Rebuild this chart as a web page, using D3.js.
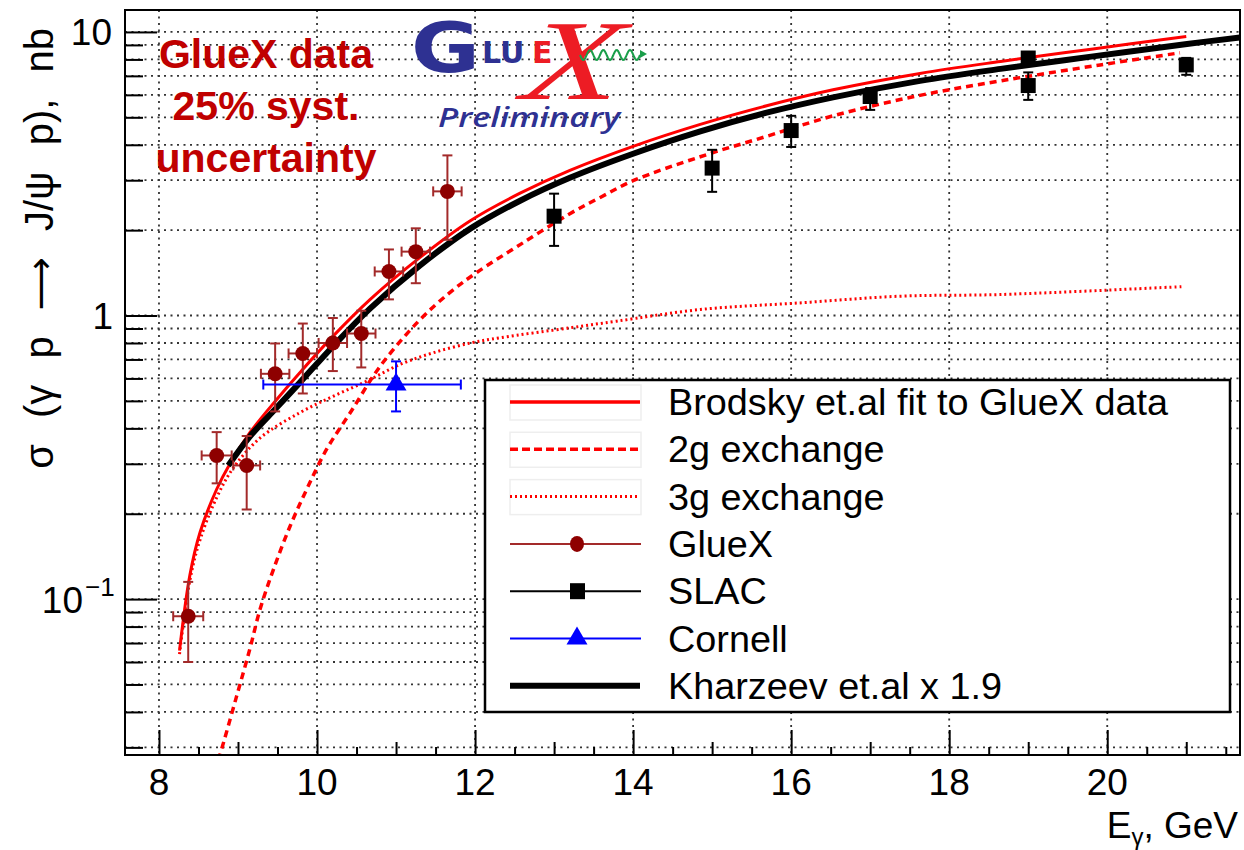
<!DOCTYPE html>
<html><head><meta charset="utf-8">
<script src="https://cdn.jsdelivr.net/npm/d3@7"></script>
<style>body{margin:0;background:#fff;} svg{display:block;}</style>
</head><body><svg id="chart" width="1244" height="850"></svg>
<script>
// ---------------- data ----------------
const gluexE     = [8.37, 8.73, 9.11, 9.47, 9.82, 10.2, 10.56, 10.91, 11.25, 11.65];
const gluexSigma = [0.087, 0.321, 0.296, 0.623, 0.735, 0.80, 0.864, 1.43, 1.68, 2.74];
const gluexHi    = [0.115, 0.388, 0.376, 0.797, 0.937, 0.98, 1.04, 1.71, 2.03, 3.67];
const gluexLo    = [0.060, 0.256, 0.207, 0.459, 0.531, 0.637, 0.656, 1.14, 1.30, 1.85];
const gluexEErr  = [0.19, 0.19, 0.17, 0.18, 0.18, 0.18, 0.18, 0.18, 0.18, 0.18];

const slacE     = [13, 15, 16, 17, 19, 19, 21];
const slacSigma = [2.24, 3.31, 4.49, 5.92, 8.09, 6.47, 7.65];
const slacHi    = [2.69, 3.84, 5.06, 6.34, 8.5, 7.2, 8.1];
const slacLo    = [1.76, 2.73, 3.93, 5.31, 7.7, 5.76, 7.06];

const cornellE = [11.0], cornellSigma = [0.571];
const cornellELo = [9.32], cornellEHi = [11.82];
const cornellLo = [0.459], cornellHi = [0.689];

const brodskyE = [8.26, 8.39, 8.52, 8.73, 8.90, 9.152, 9.49, 9.785, 10.2, 10.67, 11.30, 11.94, 12.57, 13.20, 14.0, 14.85, 15.69, 16.53, 17.63, 18.65, 19.82, 21.0];
const brodskyS = [0.0658, 0.121, 0.172, 0.244, 0.301, 0.387, 0.506, 0.630, 0.844, 1.138, 1.60, 2.16, 2.70, 3.25, 3.95, 4.72, 5.49, 6.25, 7.14, 7.87, 8.71, 9.64];

const kharzeevE = [8.877, 9.152, 9.49, 9.785, 10.2, 10.67, 11.30, 11.94, 12.57, 13.20, 14.0, 14.85, 15.69, 16.53, 17.63, 18.65, 19.82, 21.01, 21.68];
const kharzeevS = [0.296, 0.375, 0.474, 0.581, 0.778, 1.058, 1.50, 2.025, 2.54, 3.06, 3.72, 4.46, 5.19, 5.88, 6.72, 7.41, 8.20, 9.07, 9.56];

const g2E = [8.70, 8.77, 8.98, 9.15, 9.28, 9.45, 9.66, 9.87, 10.12, 10.42, 10.80, 11.28, 11.68, 12.02, 12.57, 13.20, 13.59, 14.0, 14.85, 15.69, 16.53, 17.63, 18.65, 19.91, 20.92];
const g2S = [0.0247, 0.0282, 0.0452, 0.0667, 0.0922, 0.1276, 0.181, 0.244, 0.337, 0.454, 0.663, 0.952, 1.205, 1.417, 1.778, 2.287, 2.614, 2.988, 3.63, 4.285, 5.06, 5.975, 6.72, 7.65, 8.44];

const g3E = [8.26, 8.39, 8.52, 8.73, 8.94, 9.28, 9.78, 10.21, 10.63, 11.05, 11.47, 11.94, 12.32, 13.2, 13.79, 14.85, 16.11, 17.38, 18.65, 20.96];
const g3S = [0.064, 0.116, 0.162, 0.228, 0.29, 0.37, 0.454, 0.52, 0.587, 0.672, 0.739, 0.80, 0.835, 0.905, 0.955, 1.05, 1.108, 1.17, 1.186, 1.265];

const xTickLabels = [8, 10, 12, 14, 16, 18, 20];
const yTickLabels = [0.1, 1, 10];
const legendLabels = ["Brodsky et.al fit to GlueX data", "2g exchange", "3g exchange", "GlueX", "SLAC", "Cornell", "Kharzeev et.al x 1.9"];

// ---------------- layout ----------------
const svg = d3.select('#chart');
const L = 125, T = 10, R = 1240, B = 755;
const x = d3.scaleLinear().domain([7.57, 21.68]).range([L, R]);
const y = d3.scaleLog().domain([0.0282, 11.95]).range([B, T]);
const FONT = "'Liberation Sans', Arial, Helvetica, sans-serif";

svg.append('rect').attr('width', 1244).attr('height', 850).attr('fill', '#fff');
svg.append('defs').append('clipPath').attr('id', 'plotclip')
  .append('rect').attr('x', L).attr('y', T).attr('width', R - L).attr('height', B - T);

// grid
const yGridVals = [];
for (let d = -2; d <= 1; d++) for (let k = 1; k <= 9; k++) {
  const v = k * Math.pow(10, d);
  if (v >= y.domain()[0] && v <= y.domain()[1]) yGridVals.push(v);
}
const grid = svg.append('g').attr('stroke', '#333').attr('stroke-width', 1.8).attr('stroke-dasharray', '2,4.5');
grid.selectAll('line.gx').data(xTickLabels).enter().append('line')
  .attr('x1', d => x(d)).attr('x2', d => x(d)).attr('y1', T).attr('y2', B);
grid.selectAll('line.gy').data(yGridVals).enter().append('line')
  .attr('x1', L).attr('x2', R).attr('y1', d => y(d)).attr('y2', d => y(d));

// axes (ticks inward)
const xTickVals = d3.range(7.5, 21.76, 0.5).filter(v => v >= x.domain()[0] && v <= x.domain()[1]);
const xAxis = svg.append('g').attr('transform', `translate(0,${B})`)
  .call(d3.axisBottom(x).tickValues(xTickVals).tickSize(0).tickFormat(''));
xAxis.select('.domain').remove();
xAxis.selectAll('.tick line').attr('stroke', '#000').attr('stroke-width', 2)
  .attr('y2', d => Math.abs(d % 2) < 1e-6 ? -25 : (Math.abs(d % 1) < 1e-6 ? -13 : -8));

const yAxis = svg.append('g').attr('transform', `translate(${L},0)`)
  .call(d3.axisLeft(y).tickValues(yGridVals).tickSize(0).tickFormat(''));
yAxis.select('.domain').remove();
yAxis.selectAll('.tick line').attr('stroke', '#000').attr('stroke-width', 2)
  .attr('x2', d => yTickLabels.includes(d) ? 32 : 18);

// tick labels
svg.append('g').selectAll('text').data(xTickLabels).enter().append('text')
  .attr('x', d => x(d)).attr('y', 795).attr('text-anchor', 'middle')
  .attr('font-family', FONT).attr('font-size', 37).text(d => d);
const yl = svg.append('g').attr('font-family', FONT).attr('font-size', 37);
yl.append('text').attr('x', 112).attr('y', y(10) + 13.5).attr('text-anchor', 'end').text('10');
yl.append('text').attr('x', 113).attr('y', y(1) + 13.5).attr('text-anchor', 'end').text('1');
yl.append('text').attr('x', 83).attr('y', y(0.1) + 13.5).attr('text-anchor', 'end').text('10');
yl.append('text').attr('x', 85).attr('y', y(0.1) - 3).attr('font-size', 26).text('\u22121');

// axis titles
const yt = svg.append('text').attr('transform', 'translate(53,28) rotate(-90)')
  .attr('text-anchor', 'end').attr('font-family', FONT).attr('font-size', 40)
  .attr('word-spacing', 15);
yt.append('tspan').text('\u03c3 (\u03b3 p ');
yt.append('tspan').attr('font-family', "'DejaVu Sans', sans-serif").attr('font-size', 37).text('\u27f6');
yt.append('tspan').text(' J/\u03c8 p), nb');
const xt = svg.append('text').attr('x', 1238).attr('y', 838).attr('text-anchor', 'end')
  .attr('font-family', FONT).attr('font-size', 37);
xt.append('tspan').text('E');
xt.append('tspan').attr('font-size', 24).attr('dy', 7).text('\u03b3');
xt.append('tspan').attr('dy', -7).text(', GeV');

// curves
const line = d3.line().x(d => x(d[0])).y(d => y(d[1])).curve(d3.curveCatmullRom.alpha(0.5));
const zip = (a, b) => a.map((v, i) => [v, b[i]]);
const curves = svg.append('g').attr('clip-path', 'url(#plotclip)').attr('fill', 'none');
curves.append('path').attr('d', line(zip(g3E, g3S))).attr('stroke', '#ff0000')
  .attr('stroke-width', 3).attr('stroke-dasharray', '2,3');
curves.append('path').attr('d', line(zip(g2E, g2S))).attr('stroke', '#ff0000')
  .attr('stroke-width', 3.5).attr('stroke-dasharray', '7,5');
curves.append('path').attr('d', line(zip(brodskyE, brodskyS))).attr('stroke', '#ff0000')
  .attr('stroke-width', 3);
curves.append('path').attr('d', line(zip(kharzeevE, kharzeevS))).attr('stroke', '#000')
  .attr('stroke-width', 6);

// GlueX points
const gluexCol = '#8e0000', gluexErrCol = '#a32a2a';
const gq = svg.append('g');
gluexE.forEach((e, i) => {
  const cx = x(e), cy = y(gluexSigma[i]);
  const g = gq.append('g').attr('stroke', gluexErrCol).attr('stroke-width', 2);
  g.append('line').attr('x1', cx).attr('x2', cx).attr('y1', y(gluexHi[i])).attr('y2', y(gluexLo[i]));
  g.append('line').attr('x1', x(e - gluexEErr[i])).attr('x2', x(e + gluexEErr[i])).attr('y1', cy).attr('y2', cy);
  [gluexHi[i], gluexLo[i]].forEach(v => g.append('line').attr('x1', cx - 5).attr('x2', cx + 5).attr('y1', y(v)).attr('y2', y(v)));
  [e - gluexEErr[i], e + gluexEErr[i]].forEach(v => g.append('line').attr('x1', x(v)).attr('x2', x(v)).attr('y1', cy - 5).attr('y2', cy + 5));
  gq.append('circle').attr('cx', cx).attr('cy', cy).attr('r', 7.5).attr('fill', gluexCol);
});

// SLAC points
const sq = svg.append('g');
slacE.forEach((e, i) => {
  const cx = x(e), cy = y(slacSigma[i]);
  const g = sq.append('g').attr('stroke', '#000').attr('stroke-width', 2);
  g.append('line').attr('x1', cx).attr('x2', cx).attr('y1', y(slacHi[i])).attr('y2', y(slacLo[i]));
  [slacHi[i], slacLo[i]].forEach(v => g.append('line').attr('x1', cx - 5).attr('x2', cx + 5).attr('y1', y(v)).attr('y2', y(v)));
  sq.append('rect').attr('x', cx - 7.5).attr('y', cy - 7.5).attr('width', 15).attr('height', 15).attr('fill', '#000');
});

// Cornell
const cq = svg.append('g');
cornellE.forEach((e, i) => {
  const cx = x(e), cy = y(cornellSigma[i]);
  const g = cq.append('g').attr('stroke', '#0000ff').attr('stroke-width', 2);
  g.append('line').attr('x1', x(cornellELo[i])).attr('x2', x(cornellEHi[i])).attr('y1', cy).attr('y2', cy);
  g.append('line').attr('x1', cx).attr('x2', cx).attr('y1', y(cornellHi[i])).attr('y2', y(cornellLo[i]));
  [cornellHi[i], cornellLo[i]].forEach(v => g.append('line').attr('x1', cx - 5).attr('x2', cx + 5).attr('y1', y(v)).attr('y2', y(v)));
  [cornellELo[i], cornellEHi[i]].forEach(v => g.append('line').attr('x1', x(v)).attr('x2', x(v)).attr('y1', cy - 5).attr('y2', cy + 5));
  cq.append('path').attr('d', d3.symbol(d3.symbolTriangle, 190)()).attr('transform', `translate(${cx},${cy})`).attr('fill', '#0000ff');
});

// frame
svg.append('rect').attr('x', L).attr('y', T).attr('width', R - L).attr('height', B - T)
  .attr('fill', 'none').attr('stroke', '#000').attr('stroke-width', 2);

// legend
const lg = svg.append('g');
lg.append('rect').attr('x', 485).attr('y', 380).attr('width', 745).attr('height', 332)
  .attr('fill', '#fff').attr('stroke', '#000').attr('stroke-width', 2.5);
const rowY = i => 402 + i * 47.3;
legendLabels.forEach((t, i) => {
  lg.append('text').attr('x', 668).attr('y', rowY(i) + 13).attr('font-family', FONT)
    .attr('font-size', 37.8).text(t);
});
[0, 1, 2].forEach(i => lg.append('rect').attr('x', 510).attr('y', rowY(i) - 17).attr('width', 131).attr('height', 35)
  .attr('fill', 'none').attr('stroke', '#eee').attr('stroke-width', 1.5));
lg.append('line').attr('x1', 510).attr('x2', 640).attr('y1', rowY(0)).attr('y2', rowY(0)).attr('stroke', '#f00').attr('stroke-width', 3.5);
lg.append('line').attr('x1', 510).attr('x2', 640).attr('y1', rowY(1)).attr('y2', rowY(1)).attr('stroke', '#f00').attr('stroke-width', 3.5).attr('stroke-dasharray', '8,4');
lg.append('line').attr('x1', 510).attr('x2', 640).attr('y1', rowY(2)).attr('y2', rowY(2)).attr('stroke', '#f00').attr('stroke-width', 3).attr('stroke-dasharray', '2,3');
lg.append('line').attr('x1', 510).attr('x2', 641).attr('y1', rowY(3)).attr('y2', rowY(3)).attr('stroke', gluexErrCol).attr('stroke-width', 2);
lg.append('ellipse').attr('cx', 577).attr('cy', rowY(3)).attr('rx', 7).attr('ry', 8).attr('fill', gluexCol);
lg.append('line').attr('x1', 510).attr('x2', 641).attr('y1', rowY(4)).attr('y2', rowY(4)).attr('stroke', '#000').attr('stroke-width', 2);
lg.append('rect').attr('x', 570).attr('y', rowY(4) - 8).attr('width', 15).attr('height', 16).attr('fill', '#000');
lg.append('line').attr('x1', 510).attr('x2', 641).attr('y1', rowY(5)).attr('y2', rowY(5)).attr('stroke', '#0000ff').attr('stroke-width', 2);
lg.append('path').attr('d', d3.symbol(d3.symbolTriangle, 190)()).attr('transform', `translate(577,${rowY(5)})`).attr('fill', '#0000ff');
lg.append('line').attr('x1', 510).attr('x2', 640).attr('y1', rowY(6)).attr('y2', rowY(6)).attr('stroke', '#000').attr('stroke-width', 6);

// annotation
const ann = svg.append('g').attr('font-family', FONT).attr('font-weight', 'bold').attr('font-size', 41)
  .attr('fill', '#c00000').attr('text-anchor', 'middle');
['GlueX data', '25% syst.', 'uncertainty'].forEach((t, i) => ann.append('text').attr('x', 266).attr('y', 68 + i * 52).text(t));

// logo
const logo = svg.append('g');
logo.append('text').attr('transform', 'translate(411,72) scale(1.2,1)').attr('font-family', "'DejaVu Sans', sans-serif")
  .attr('font-weight', 'bold').attr('font-size', 70).attr('fill', '#2e3192').text('G');
logo.append('text').attr('transform', 'translate(520,99) skewX(-8) scale(1.4,1)').attr('font-family', "'Liberation Serif', serif")
  .attr('font-style', 'italic').attr('font-size', 114).attr('fill', '#ed1c24').text('X');
logo.append('text').attr('x', 482).attr('y', 63).attr('font-family', "'DejaVu Sans', sans-serif")
  .attr('font-weight', 'bold').attr('font-size', 30).attr('fill', '#2e3192').text('LU');
logo.append('text').attr('x', 532).attr('y', 63).attr('font-family', "'DejaVu Sans', sans-serif")
  .attr('font-weight', 'bold').attr('font-size', 30).attr('fill', '#ed1c24').text('E');
const wave = d3.range(0, 61).map(i => [580 + i, 55 + 5 * Math.sin(i / 60 * 4.5 * 2 * Math.PI)]);
logo.append('path').attr('d', d3.line()(wave)).attr('fill', 'none').attr('stroke', '#1a9e4a').attr('stroke-width', 2);
logo.append('path').attr('d', 'M640,50 L647,54 L640,58 Z').attr('fill', '#1a9e4a');
logo.append('text').attr('x', 438).attr('y', 127).attr('font-family', "'Open Sans', sans-serif")
  .attr('font-style', 'italic').attr('font-weight', 600).attr('font-size', 27).attr('fill', '#2e3192')
  .attr('textLength', 182).attr('lengthAdjust', 'spacingAndGlyphs').text('Preliminary');
</script></body></html>
